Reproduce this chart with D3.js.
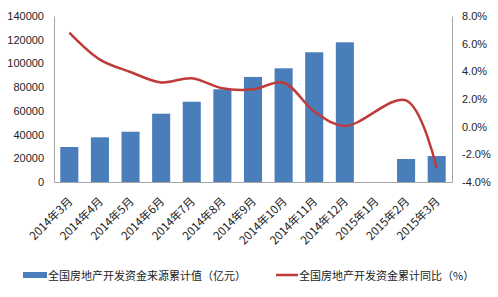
<!DOCTYPE html>
<html>
<head>
<meta charset="utf-8">
<script src="https://cdn.jsdelivr.net/npm/d3@7"></script>
<style>
  body { margin: 0; background: #fff; }
  svg { display: block; }
  text { font-family: "Liberation Sans", Arial, "Noto Sans CJK SC", sans-serif; fill: #222; }
  .cjk { font-family: "Noto Sans CJK SC", sans-serif; }
</style>
</head>
<body>
<div id="chart"></div>
<script>
// categories and series
var months = ["2014年3月", "2014年4月", "2014年5月", "2014年6月", "2014年7月", "2014年8月",
  "2014年9月", "2014年10月", "2014年11月", "2014年12月", "2015年1月", "2015年2月", "2015年3月"];
var fundTotal = [29500, 37700, 42400, 57600, 67700, 78200, 88600, 95900, 109400, 117800, null, 19400, 21900];
var fundYoY = [6.8, 4.85, 3.95, 3.2, 3.5, 2.77, 2.7, 3.18, 1.1, 0.05, null, 1.9, -3.0];
var leftTicks = [0, 20000, 40000, 60000, 80000, 100000, 120000, 140000];
var rightTicks = [-4, -2, 0, 2, 4, 6, 8];
var barName = "全国房地产开发资金来源累计值（亿元）";
var lineName = "全国房地产开发资金累计同比（%）";

var width = 498, height = 297;
var plotL = 54, plotR = 452, plotT = 16, plotB = 182;

var svg = d3.select("#chart").append("svg")
  .attr("width", width)
  .attr("height", height);

var x = d3.scaleBand().domain(months).range([plotL, plotR]).paddingInner(0.41).paddingOuter(0.205);
var y = d3.scaleLinear().domain([0, 140000]).range([plotB, plotT]);
var y2 = d3.scaleLinear().domain([-4, 8]).range([plotB, plotT]);

// left axis
var gl = svg.append("g")
  .attr("transform", "translate(" + plotL + ",0)")
  .call(d3.axisLeft(y).tickValues(leftTicks).tickSize(0).tickPadding(10).tickFormat(d3.format("d")));
gl.select(".domain").attr("stroke", "#a6a6a6");
gl.selectAll("text").attr("font-size", 11).attr("fill", "#222").style("font-family", "Liberation Sans, Arial, sans-serif");

// right axis
var gr = svg.append("g")
  .attr("transform", "translate(" + plotR + ",0)")
  .call(d3.axisRight(y2).tickValues(rightTicks).tickSize(0).tickPadding(10).tickFormat(function (d) { return d.toFixed(1) + "%"; }));
gr.select(".domain").attr("stroke", "#a6a6a6");
gr.selectAll("text").attr("font-size", 11).attr("fill", "#222").style("font-family", "Liberation Sans, Arial, sans-serif");

// bars
svg.append("g").selectAll("rect")
  .data(months.map(function (m, i) { return { m: m, v: fundTotal[i] }; }).filter(function (d) { return d.v != null; }))
  .join("rect")
  .attr("x", function (d) { return x(d.m); })
  .attr("y", function (d) { return y(d.v); })
  .attr("width", x.bandwidth())
  .attr("height", function (d) { return y(0) - y(d.v); })
  .attr("fill", "#4a7ebb");

// bottom axis
var gb = svg.append("g")
  .attr("transform", "translate(0," + plotB + ")")
  .call(d3.axisBottom(x).tickSize(0).tickFormat(""));
gb.select(".domain").attr("stroke", "#a6a6a6");

svg.append("g").selectAll("text")
  .data(months)
  .join("text")
  .attr("class", "cjk")
  .attr("font-size", 11.5)
  .attr("text-anchor", "end")
  .attr("transform", function (d) {
    return "translate(" + (x(d) + x.bandwidth() / 2 + 4) + "," + (plotB + 20) + ") rotate(-45)";
  })
  .text(function (d) { return d; });

// line
var pts = months.map(function (m, i) { return { m: m, v: fundYoY[i] }; }).filter(function (d) { return d.v != null; });
svg.append("path")
  .datum(pts)
  .attr("fill", "none")
  .attr("stroke", "#be3b3a")
  .attr("stroke-width", 2.5)
  .attr("d", d3.line()
    .x(function (d) { return x(d.m) + x.bandwidth() / 2; })
    .y(function (d) { return y2(d.v); })
    .curve(d3.curveCatmullRom.alpha(0.5)));

// legend
var lg = svg.append("g");
lg.append("rect").attr("x", 23).attr("y", 272).attr("width", 24).attr("height", 6).attr("fill", "#4a7ebb");
lg.append("text").attr("class", "cjk").attr("x", 48).attr("y", 280).attr("font-size", 11).text(barName);
lg.append("line").attr("x1", 276).attr("x2", 298).attr("y1", 275).attr("y2", 275)
  .attr("stroke", "#be3b3a").attr("stroke-width", 2.5);
lg.append("text").attr("class", "cjk").attr("x", 299).attr("y", 280).attr("font-size", 11).text(lineName);
</script>
</body>
</html>
